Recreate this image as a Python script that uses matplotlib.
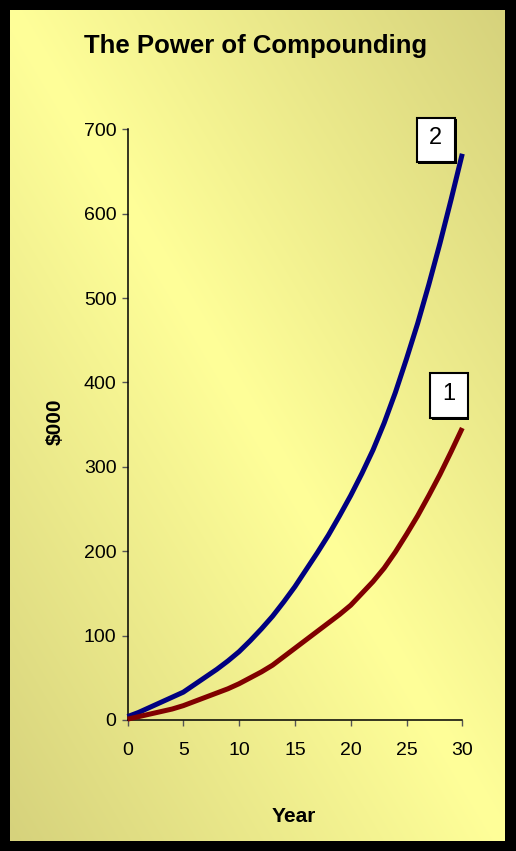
import numpy as np
import matplotlib
matplotlib.use("Agg")
import matplotlib.pyplot as plt
from matplotlib.patches import Rectangle

plt.rcParams['font.family'] = ['Liberation Sans', 'DejaVu Sans']

# ---- data ($000) ----
years = list(range(0, 31))
series_2 = [4, 9, 15, 21, 27, 33, 42, 51, 60, 70, 81, 94, 108, 123, 140, 158,
            178, 198, 219, 242, 266, 292, 320, 352, 388, 428, 470, 516, 565, 617, 671]
series_1 = [1, 4, 7, 10, 13, 17, 22, 27, 32, 37, 43, 50, 57, 65, 75, 85,
            95, 105, 115, 125, 136, 150, 164, 180, 199, 220, 242, 266, 291, 318, 346]
x_ticks = [0, 5, 10, 15, 20, 25, 30]
y_ticks = [0, 100, 200, 300, 400, 500, 600, 700]
title = "The Power of Compounding"
labels = ["2", "1"]

W, H = 516, 851
fig = plt.figure(figsize=(W / 100, H / 100), dpi=100, facecolor='black')

# gradient background panel
bx0, by0, bw, bh = 10, 10, 494, 831  # pixels from left / top
bg = fig.add_axes([bx0 / W, 1 - (by0 + bh) / H, bw / W, bh / H])
gx = np.linspace(0, 1, 300)
gy = np.linspace(0, 1, 500)
U, V = np.meshgrid(gx, gy)
t = np.clip(np.abs(U - V), 0, 1)
bright = np.array([255, 255, 153]) / 255
dark = np.array([214, 210, 124]) / 255
img = bright[None, None, :] * (1 - t[..., None]) + dark[None, None, :] * t[..., None]
bg.imshow(img, aspect='auto', extent=[0, 1, 1, 0], interpolation='bilinear')
bg.set_axis_off()
bg.set_zorder(0)

# main axes
left, right, top, bottom = 127.5, 462.3, 129.3, 720
ax = fig.add_axes([left / W, 1 - bottom / H, (right - left) / W, (bottom - top) / H])
ax.set_zorder(1)
ax.patch.set_visible(False)

ax.plot(years, series_2, color='#000080', lw=3.6, solid_capstyle='butt',
        solid_joinstyle='round', clip_on=False, zorder=3)
ax.plot(years, series_1, color='#800000', lw=3.6, solid_capstyle='butt',
        solid_joinstyle='round', clip_on=False, zorder=3)

ax.set_xlim(0, 30)
ax.set_ylim(0, 700)
ax.set_xticks(x_ticks)
ax.set_yticks(y_ticks)
for s in ['top', 'right']:
    ax.spines[s].set_visible(False)
for s in ['left', 'bottom']:
    ax.spines[s].set_color('black')
    ax.spines[s].set_linewidth(1.1)
ax.tick_params(axis='both', direction='out', length=4, width=1.0, color='#555555',
               labelsize=14, labelcolor='black')
ax.tick_params(axis='x', pad=12)
ax.tick_params(axis='y', pad=4)

ax.set_xlabel('Year', fontsize=15, fontweight='bold', va='center')
ax.xaxis.set_label_coords((294 - left) / (right - left), (bottom - 817) / (bottom - top))
ax.set_ylabel(r'\$000', fontsize=15, fontweight='bold', va='center')
ax.yaxis.set_label_coords((55 - left) / (right - left), (bottom - 422) / (bottom - top))

fig.text(256 / W, 1 - 46 / H, title, fontsize=18.5, fontweight='bold', ha='center', va='center')

# labelled boxes (pixel boxes)
boxes = [(416.7, 117.7, 38.3, 44.3), (430, 373.3, 37.7, 45)]
for lab, (x0, y0, w, h) in zip(labels, boxes):
    fig.patches.append(Rectangle(((x0 + 1.5) / W, 1 - (y0 + h + 1.5) / H), w / W, h / H,
                                 transform=fig.transFigure, facecolor='black',
                                 edgecolor='none', zorder=4))
    fig.patches.append(Rectangle((x0 / W, 1 - (y0 + h) / H), w / W, h / H,
                                 transform=fig.transFigure, facecolor='white',
                                 edgecolor='black', lw=1.5, zorder=5))
    fig.text((x0 + w / 2) / W, 1 - (y0 + h / 2 - 2) / H, lab, fontsize=17,
             ha='center', va='center', zorder=6)

fig.savefig('out.png', dpi=100, facecolor='black')
